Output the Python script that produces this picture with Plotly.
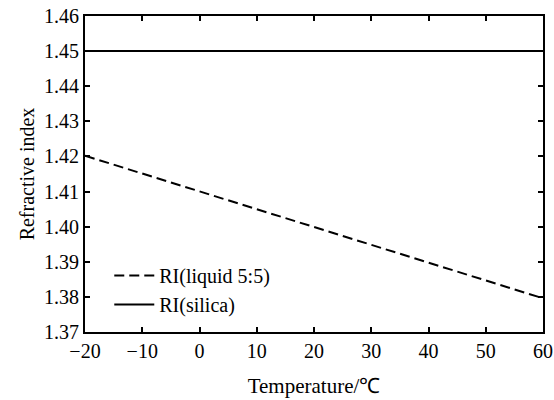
import plotly.graph_objects as go

temperature = [-20, -10, 0, 10, 20, 30, 40, 50, 60]
ri_liquid = [1.4202, 1.4151, 1.4100, 1.4049, 1.3998, 1.3948, 1.3897, 1.3846, 1.3796]
ri_silica = [1.45, 1.45, 1.45, 1.45, 1.45, 1.45, 1.45, 1.45, 1.45]

font_family = "Liberation Serif, Times New Roman, serif"

fig = go.Figure()
fig.add_trace(go.Scatter(x=temperature, y=ri_liquid, mode="lines", name="RI(liquid 5:5)",
                         line=dict(color="black", width=2, dash="10px,5px")))
fig.add_trace(go.Scatter(x=temperature, y=ri_silica, mode="lines", name="RI(silica)",
                         line=dict(color="black", width=2)))

axis_common = dict(showline=True, linecolor="black", linewidth=2, mirror="ticks",
                   ticks="inside", ticklen=5, tickwidth=1.5, tickcolor="black",
                   showgrid=False, zeroline=False, automargin=False,
                   tickfont=dict(family=font_family, size=20, color="black"))

fig.update_layout(
    width=554, height=400,
    margin=dict(l=85, r=11, t=16, b=68),
    paper_bgcolor="white", plot_bgcolor="white",
    font=dict(family=font_family, size=20, color="black"),
    showlegend=True,
    legend=dict(x=0.053, y=0.025, xanchor="left", yanchor="bottom",
                bgcolor="rgba(0,0,0,0)", font=dict(family=font_family, size=20),
                tracegroupgap=0, itemwidth=40),
    xaxis=dict(range=[-20, 60], tickvals=[-20, -10, 0, 10, 20, 30, 40, 50, 60],
               title=dict(text="Temperature/℃", standoff=17,
                          font=dict(family=font_family, size=21)),
               **axis_common),
    yaxis=dict(range=[1.37, 1.46], tickvals=[1.37, 1.38, 1.39, 1.40, 1.41, 1.42, 1.43, 1.44, 1.45, 1.46],
               tickformat=".2f",
               title=dict(text="Refractive index", standoff=4,
                          font=dict(family=font_family, size=20)),
               **axis_common),
)

fig.write_html("out.html")
